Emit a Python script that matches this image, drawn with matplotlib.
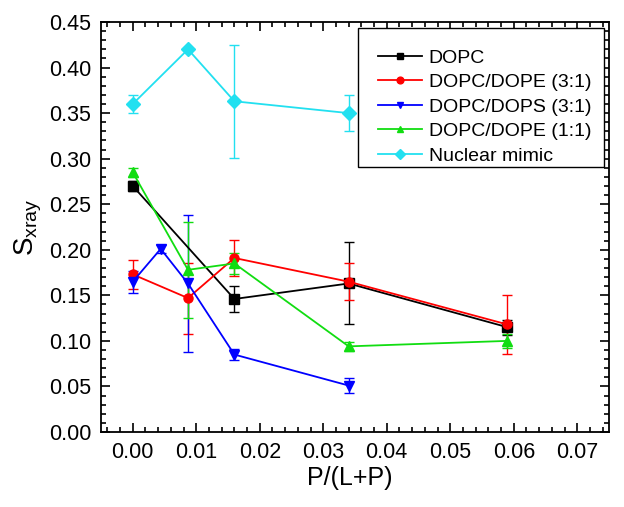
import matplotlib
matplotlib.use("Agg")
import matplotlib.pyplot as plt
from matplotlib.patches import Rectangle
from matplotlib.ticker import MultipleLocator, FormatStrFormatter

plt.rcParams["font.family"] = ["Liberation Sans", "DejaVu Sans"]
plt.rcParams["mathtext.fontset"] = "custom"
plt.rcParams["mathtext.rm"] = "Liberation Sans"

labels = ["DOPC", "DOPC/DOPE (3:1)", "DOPC/DOPS (3:1)", "DOPC/DOPE (1:1)", "Nuclear mimic"]
colors = ["black", "#ff0000", "#0000ff", "#11dd11", "#22e0f0"]
markers = ["s", "o", "v", "^", "D"]

dopc_x = [0.0, 0.016, 0.034, 0.059]
dopc_y = [0.270, 0.146, 0.163, 0.115]
dopc_e = [0.005, 0.014, 0.045, 0.008]

pe31_x = [0.0, 0.0087, 0.016, 0.034, 0.059]
pe31_y = [0.173, 0.147, 0.191, 0.165, 0.118]
pe31_e = [0.016, 0.039, 0.020, 0.020, 0.032]

ps31_x = [0.0, 0.0044, 0.0087, 0.016, 0.034]
ps31_y = [0.165, 0.201, 0.163, 0.085, 0.051]
ps31_e = [0.012, 0.004, 0.075, 0.006, 0.008]

pe11_x = [0.0, 0.0087, 0.016, 0.034, 0.059]
pe11_y = [0.285, 0.178, 0.185, 0.094, 0.100]
pe11_e = [0.005, 0.053, 0.012, 0.005, 0.008]

nuc_x = [0.0, 0.0087, 0.016, 0.034]
nuc_y = [0.360, 0.420, 0.363, 0.350]
nuc_e = [0.010, 0.0, 0.062, 0.020]

series = [
    (dopc_x, dopc_y, dopc_e),
    (pe31_x, pe31_y, pe31_e),
    (ps31_x, ps31_y, ps31_e),
    (pe11_x, pe11_y, pe11_e),
    (nuc_x, nuc_y, nuc_e),
]

fig = plt.figure(figsize=(6.24, 5.07), dpi=100)
ax = fig.add_axes([101 / 624, 1 - 432 / 507, 508 / 624, 410 / 507])

handles = []
for (x, y, e), lab, c, m in zip(series, labels, colors, markers):
    ms = 7 if m == "D" else 6.5
    cont = ax.errorbar(x, y, yerr=e, color=c, marker=m, markersize=ms, lw=1.3,
                       elinewidth=1.0, capsize=3.5, capthick=1.0, label=lab)
    handles.append(cont[0])

ax.set_xlim(-0.005, 0.075)
ax.set_ylim(0, 0.45)
ax.xaxis.set_major_locator(MultipleLocator(0.01))
ax.xaxis.set_minor_locator(MultipleLocator(0.002))
ax.yaxis.set_major_locator(MultipleLocator(0.05))
ax.yaxis.set_minor_locator(MultipleLocator(0.01))
ax.xaxis.set_major_formatter(FormatStrFormatter("%.2f"))
ax.yaxis.set_major_formatter(FormatStrFormatter("%.2f"))
ax.tick_params(which="both", direction="in", top=True, right=True, width=1.2)
ax.tick_params(which="major", length=6.5, labelsize=15.5, pad=7)
ax.tick_params(which="minor", length=3.5)
for s in ax.spines.values():
    s.set_linewidth(1.3)

ax.set_xlabel("P/(L+P)", fontsize=18, va="center")
ax.xaxis.set_label_coords(0.49, -0.112)
ax.set_ylabel(r"S$_{\mathrm{xray}}$", fontsize=20, va="center")
ax.yaxis.set_label_coords(-0.144, 0.5)

# legend box drawn separately (Origin-style, extra space on top)
ax.add_patch(Rectangle((0.506, 0.646), 0.484, 0.339, transform=ax.transAxes,
                       facecolor="white", edgecolor="black", lw=1.0, zorder=4))
leg = ax.legend(handles=handles, labels=labels, loc="center left", fontsize=14,
                numpoints=1, handlelength=2.26, handletextpad=0.36, markerscale=0.75,
                frameon=False, bbox_to_anchor=(0.545, 0.793), borderaxespad=0,
                borderpad=0, labelspacing=0.35)
leg.set_zorder(5)

fig.savefig("out.png", dpi=100)
